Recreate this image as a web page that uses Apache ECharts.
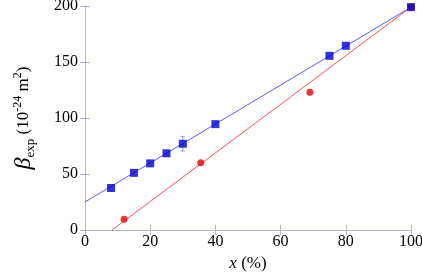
<!DOCTYPE html>
<html>
<head>
<meta charset="utf-8">
<script src="https://cdn.jsdelivr.net/npm/echarts@6/dist/echarts.min.js"></script>
</head>
<body style="margin:0">
<div id="chart" style="width:422px;height:272px"></div>
<script>
// measured points
var blueX = [8, 15, 20, 25, 30, 40, 75, 80, 100];
var blueY = [37.5, 51, 59.5, 68.5, 77, 94.5, 155.5, 164.5, 199];
var blueErr = [0, 0, 0, 0, 6.5, 0, 0, 0, 0];
var redX = [12, 35.5, 69, 100];
var redY = [9.5, 60, 123, 199];
// fitted lines (end points)
var blueFitX = [0, 100];
var blueFitY = [25, 199];
var redFitX = [8.3, 100];
var redFitY = [0, 199];

function zip(a, b) { return a.map(function (v, i) { return [v, b[i]]; }); }

var axisCol = '#b4b4d2';
var font = 'Liberation Serif';
var chart = echarts.init(document.getElementById('chart'));

var baseAxis = {
    axisLine: { lineStyle: { color: axisCol, width: 1 } },
    axisTick: { inside: true, length: 5, lineStyle: { color: axisCol } },
    splitLine: { show: false }
};

option = {
    animation: false,
    textStyle: { fontFamily: font },
    grid: { left: 85, right: 11, top: 6, bottom: 42, outerBoundsMode: 'none', containLabel: false },
    xAxis: [
        Object.assign({}, baseAxis, {
            type: 'value', min: 0, max: 100, interval: 20,
            axisLabel: { color: '#000', fontFamily: font, fontSize: 16, margin: 4 },
            name: '{i|x} (%)', nameLocation: 'middle', nameGap: 19,
            nameTextStyle: {
                fontFamily: font, fontSize: 17, color: '#000',
                rich: { i: { fontFamily: font, fontSize: 17, fontStyle: 'italic' } }
            }
        }),
        Object.assign({}, baseAxis, {
            type: 'value', min: 0, max: 100, interval: 20, position: 'top',
            axisLabel: { show: false }
        })
    ],
    yAxis: [
        Object.assign({}, baseAxis, {
            type: 'value', min: 0, max: 200, interval: 50,
            axisLabel: { color: '#000', fontFamily: font, fontSize: 16, margin: 7 },
            name: '{b|β}{s|exp}{n| (10}{p|-24}{n| m}{p|2}{n|)}',
            nameLocation: 'middle', nameGap: 46, nameRotate: 90,
            nameTextStyle: {
                color: '#000', fontFamily: font,
                rich: {
                    b: { fontFamily: font, fontSize: 24, fontStyle: 'italic', color: '#000', lineHeight: 30, verticalAlign: 'middle' },
                    s: { fontFamily: font, fontSize: 13, color: '#000', lineHeight: 30, verticalAlign: 'bottom', padding: [0, 0, 2, 0] },
                    n: { fontFamily: font, fontSize: 17, color: '#000', lineHeight: 30, verticalAlign: 'middle' },
                    p: { fontFamily: font, fontSize: 12, color: '#000', lineHeight: 30, verticalAlign: 'top', padding: [3, 0, 0, 0] }
                }
            }
        }),
        Object.assign({}, baseAxis, {
            type: 'value', min: 0, max: 200, interval: 50, position: 'right',
            axisLabel: { show: false }
        })
    ],
    series: [
        {
            type: 'line', data: zip(blueFitX, blueFitY), symbol: 'none',
            lineStyle: { color: '#5a5aff', width: 1 }, z: 2
        },
        {
            type: 'line', data: zip(redFitX, redFitY), symbol: 'none',
            lineStyle: { color: '#ff5050', width: 1 }, z: 2
        },
        {
            type: 'custom', z: 3,
            data: blueX.map(function (x, i) { return [x, blueY[i], blueErr[i]]; }).filter(function (d) { return d[2] > 0; }),
            renderItem: function (params, api) {
                var x = api.value(0), y = api.value(1), e = api.value(2);
                var lo = api.coord([x, y - e]), hi = api.coord([x, y + e]);
                return {
                    type: 'group', children: [
                        { type: 'line', shape: { x1: lo[0], y1: lo[1], x2: hi[0], y2: hi[1] }, style: { stroke: '#9a9ae6', lineWidth: 1 } },
                        { type: 'line', shape: { x1: lo[0] - 2, y1: lo[1], x2: lo[0] + 2, y2: lo[1] }, style: { stroke: '#9a9ae6', lineWidth: 1 } },
                        { type: 'line', shape: { x1: hi[0] - 2, y1: hi[1], x2: hi[0] + 2, y2: hi[1] }, style: { stroke: '#9a9ae6', lineWidth: 1 } }
                    ]
                };
            }
        },
        {
            type: 'scatter', data: zip(redX, redY), symbol: 'circle', symbolSize: 7,
            itemStyle: { color: '#e00000' }, z: 4
        },
        {
            type: 'scatter', data: zip(blueX, blueY), symbol: 'rect', symbolSize: 8,
            itemStyle: { color: '#0000d0' }, z: 5
        }
    ]
};
chart.setOption(option);
</script>
</body>
</html>
